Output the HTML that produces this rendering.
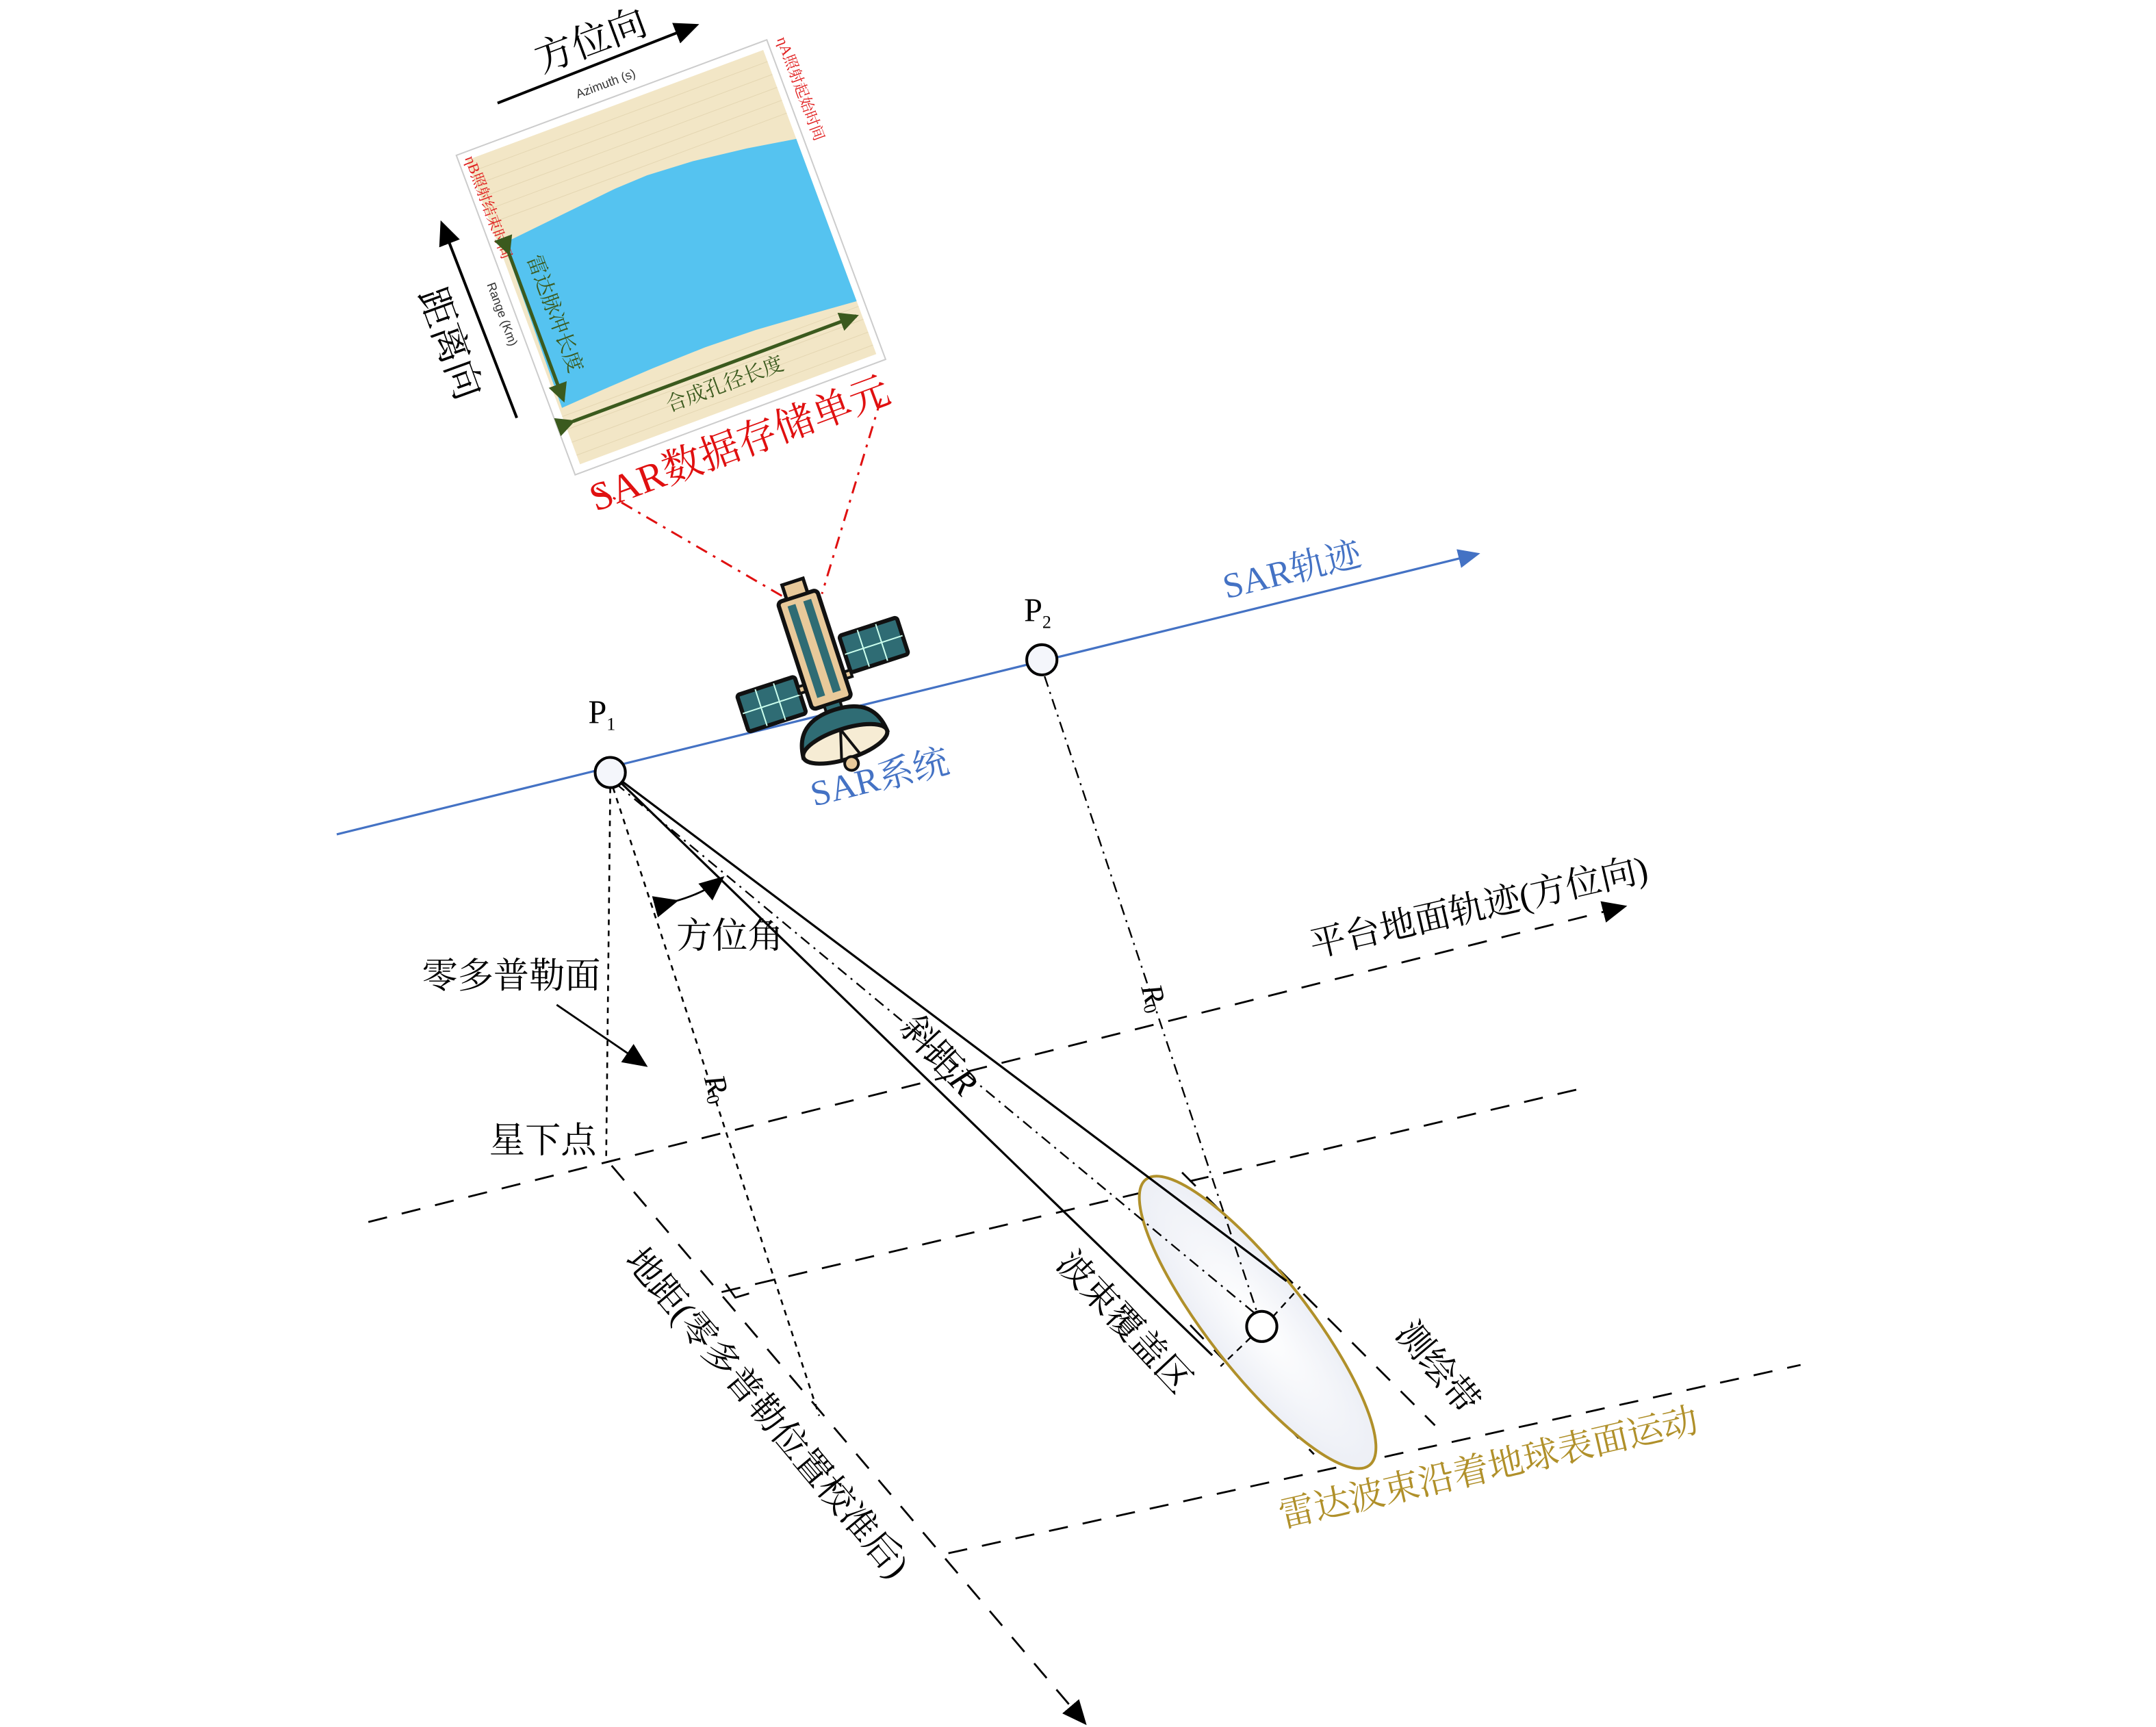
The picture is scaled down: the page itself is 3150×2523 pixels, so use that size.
<!DOCTYPE html>
<html><head><meta charset="utf-8">
<style>
html,body{margin:0;padding:0;background:#fff;}
svg{display:block;}
text{font-family:"Liberation Serif","Noto Serif CJK SC",serif;}
</style></head>
<body>
<svg width="3150" height="2523" viewBox="0 0 1568.6 1256.4" preserveAspectRatio="none" xmlns="http://www.w3.org/2000/svg">
<defs>
<radialGradient id="eg" cx="0.5" cy="0.5" r="0.6">
<stop offset="0" stop-color="#ffffff"/><stop offset="1" stop-color="#e9ecf4"/>
</radialGradient>
<marker id="abig" markerWidth="18" markerHeight="16" refX="14" refY="8" orient="auto" markerUnits="userSpaceOnUse"><path d="M0,0 L18,8 L0,16 Z" fill="#000"/></marker>
<marker id="ablue" markerWidth="16" markerHeight="14" refX="14" refY="7" orient="auto" markerUnits="userSpaceOnUse"><path d="M0,0 L16,7 L0,14 Z" fill="#4472c4"/></marker>
<marker id="ag" markerWidth="14" markerHeight="14" refX="12" refY="7" orient="auto" markerUnits="userSpaceOnUse"><path d="M0,0 L14,7 L0,14 Z" fill="#3b5a1e"/></marker>
</defs>

<g stroke="#000" stroke-width="1.4" fill="none" stroke-dasharray="14 11">
<line x1="268" y1="889" x2="1180" y2="660" marker-end="url(#abig)"/>
<line x1="525" y1="940" x2="1150" y2="792"/>
<line x1="690" y1="1130" x2="1310" y2="993"/>
<line x1="445" y1="848" x2="788" y2="1252" marker-end="url(#abig)"/>
<line x1="860" y1="853" x2="1044" y2="1037"/>
<line x1="866" y1="964" x2="956" y2="1058"/>
</g>
<path d="M528,934 L535,944 L545,941" stroke="#000" stroke-width="1.4" fill="none"/>

<ellipse cx="915" cy="962" rx="132" ry="36" transform="rotate(52 915 962)" fill="url(#eg)" stroke="#b0902a" stroke-width="2"/>

<line x1="245" y1="607" x2="1075" y2="403" stroke="#4472c4" stroke-width="1.6" marker-end="url(#ablue)"/>

<g stroke="#000" fill="none">
<line x1="444" y1="562" x2="936" y2="932" stroke-width="1.6"/>
<line x1="444" y1="562" x2="882" y2="986" stroke-width="1.6"/>
<line x1="444" y1="573" x2="441" y2="845" stroke-width="1.3" stroke-dasharray="4 4"/>
<line x1="446" y1="573" x2="596" y2="1030" stroke-width="1.3" stroke-dasharray="4 4"/>
<line x1="448" y1="570" x2="916" y2="958" stroke-width="1.2" stroke-dasharray="8 4 1.5 4"/>
<line x1="760" y1="492" x2="914" y2="953" stroke-width="1.2" stroke-dasharray="8 4 1.5 4"/>
<line x1="926" y1="958" x2="946" y2="936" stroke-width="1.2" stroke-dasharray="5 4"/>
<line x1="910" y1="973" x2="888" y2="994" stroke-width="1.2" stroke-dasharray="5 4"/>
<line x1="405" y1="731" x2="468" y2="774" stroke-width="1.4" marker-end="url(#abig)"/>
<path d="M490,656 Q512,650 524,640" stroke-width="1.4" marker-end="url(#abig)" marker-start="url(#abig)"/>
</g>
<circle cx="918" cy="965" r="11" fill="#fff" stroke="#000" stroke-width="2"/>
<circle cx="444" cy="562" r="11" fill="#f4f6fb" stroke="#000" stroke-width="2"/>
<circle cx="758" cy="480" r="11" fill="#f4f6fb" stroke="#000" stroke-width="2"/>

<text x="428" y="526" font-size="24">P<tspan font-size="13" dy="5">1</tspan></text>
<text x="745" y="452" font-size="24">P<tspan font-size="13" dy="5">2</tspan></text>

<g stroke="#e01010" stroke-width="1.5" stroke-dasharray="9 5 2 5" fill="none">
<line x1="434" y1="355" x2="580" y2="440"/>
<line x1="641" y1="290" x2="598" y2="432"/>
</g>

<g transform="translate(597,486) rotate(-18)">
<rect x="-64" y="0" width="44" height="28" fill="#2f6c74" stroke="#111" stroke-width="3" rx="2"/>
<path d="M-50,0 V28 M-36,0 V28 M-64,14 H-20" stroke="#cfe" stroke-width="1"/>
<rect x="20" y="-18" width="44" height="28" fill="#2f6c74" stroke="#111" stroke-width="3" rx="2"/>
<path d="M34,-18 V10 M48,-18 V10 M20,-4 H64" stroke="#cfe" stroke-width="1"/>
<rect x="-20" y="8" width="40" height="5" fill="#e8c99a" stroke="#111" stroke-width="2"/>
<rect x="-15" y="-55" width="30" height="82" fill="#e8c99a" stroke="#111" stroke-width="3" rx="3"/>
<rect x="-9" y="-50" width="6" height="70" fill="#2f6c74"/>
<rect x="3" y="-50" width="6" height="70" fill="#2f6c74"/>
<rect x="-8" y="-66" width="16" height="11" fill="#e8c99a" stroke="#111" stroke-width="2.5"/>
<rect x="-6" y="27" width="12" height="8" fill="#2f6c74" stroke="#111" stroke-width="2"/>
<path d="M-32,58 Q-30,32 0,32 Q30,32 32,58 Z" fill="#2f6c74" stroke="#111" stroke-width="3"/>
<ellipse cx="0" cy="58" rx="32" ry="11" fill="#f6ecd4" stroke="#111" stroke-width="3"/>
<path d="M0,47 L-6,68 M0,47 L8,68" stroke="#111" stroke-width="2"/>
<circle cx="0" cy="73" r="5" fill="#e8c99a" stroke="#111" stroke-width="2"/>
</g>

<g transform="translate(332,113) rotate(-20.4)">
<rect x="0" y="0" width="241" height="248" fill="#fff" stroke="#ccc" stroke-width="1"/>
<rect x="6" y="6" width="230" height="236" fill="#f2e6c6"/>
<g stroke="#e4d6b2" stroke-width="0.5">
<line x1="6" y1="15" x2="236" y2="15"/><line x1="6" y1="25" x2="236" y2="25"/><line x1="6" y1="35" x2="236" y2="35"/><line x1="6" y1="45" x2="236" y2="45"/><line x1="6" y1="55" x2="236" y2="55"/>
<line x1="6" y1="205" x2="236" y2="205"/><line x1="6" y1="215" x2="236" y2="215"/><line x1="6" y1="225" x2="236" y2="225"/><line x1="6" y1="235" x2="236" y2="235"/>
</g>
<path d="M10,72 L40,69 L70,66 L100,63 L125,62 L160,64 L200,69 L236,75 L236,201 L200,198 L160,195 L121,194 L80,195 L40,197 L8,199 Z" fill="#55c3f0"/>
<text x="120" y="-8" font-size="9" text-anchor="middle" fill="#333" style="font-family:'Liberation Sans',sans-serif">Azimuth (s)</text>
<text transform="translate(-12,120) rotate(90)" font-size="9" text-anchor="middle" fill="#333" style="font-family:'Liberation Sans',sans-serif">Range (Km)</text>
<text transform="translate(248,2) rotate(90)" font-size="11" fill="#e02020">ηA照射起始时间</text>
<text transform="translate(5,4) rotate(90)" font-size="11" fill="#e02020">ηB照射结束时间</text>
<line x1="11" y1="80" x2="11" y2="194" stroke="#3b5a1e" stroke-width="2.5" marker-end="url(#ag)" marker-start="url(#ag)"/>
<line x1="12" y1="211" x2="232" y2="211" stroke="#3b5a1e" stroke-width="2.5" marker-end="url(#ag)" marker-start="url(#ag)"/>
<text transform="translate(22,88) rotate(90)" font-size="15" fill="#3b5a1e">雷达脉冲长度</text>
<text x="125" y="229" font-size="15" fill="#3b5a1e" text-anchor="middle">合成孔径长度</text>
</g>

<line x1="362" y1="75" x2="505" y2="19" stroke="#000" stroke-width="2" marker-end="url(#abig)"/>
<line x1="376" y1="304" x2="322" y2="164" stroke="#000" stroke-width="2" marker-end="url(#abig)"/>
<text transform="translate(430,30) rotate(-20.4)" font-size="28" text-anchor="middle" dominant-baseline="central">方位向</text>
<text transform="translate(327,250) rotate(70)" font-size="28" text-anchor="middle" dominant-baseline="central">距离向</text>
<text transform="translate(538,323) rotate(-20.4)" font-size="29" text-anchor="middle" dominant-baseline="central" fill="#e01010">SAR数据存储单元</text>

<text transform="translate(940,415) rotate(-14)" font-size="26" text-anchor="middle" dominant-baseline="central" fill="#4472c4">SAR轨迹</text>
<text transform="translate(640,566) rotate(-14)" font-size="26" text-anchor="middle" dominant-baseline="central" fill="#4472c4">SAR系统</text>
<text transform="translate(1076,660) rotate(-13)" font-size="26" text-anchor="middle" dominant-baseline="central">平台地面轨迹(方位向)</text>
<text transform="translate(1083,1068) rotate(-13)" font-size="26" text-anchor="middle" dominant-baseline="central" fill="#b0902a">雷达波束沿着地球表面运动</text>
<text x="531" y="681" font-size="26" text-anchor="middle" dominant-baseline="central">方位角</text>
<text x="372" y="710" font-size="26" text-anchor="middle" dominant-baseline="central">零多普勒面</text>
<text x="395" y="830" font-size="26" text-anchor="middle" dominant-baseline="central">星下点</text>
<text transform="translate(683,768) rotate(47)" font-size="26" text-anchor="middle" dominant-baseline="central">斜距<tspan font-style="italic">R</tspan></text>
<text transform="translate(522,792) rotate(75)" font-size="22" text-anchor="middle" dominant-baseline="central"><tspan font-style="italic">R</tspan><tspan font-size="13" dy="5">0</tspan></text>
<text transform="translate(840,726) rotate(75)" font-size="22" text-anchor="middle" dominant-baseline="central"><tspan font-style="italic">R</tspan><tspan font-size="13" dy="5">0</tspan></text>
<text transform="translate(558,1028) rotate(50)" font-size="26" text-anchor="middle" dominant-baseline="central">地距(零多普勒位置校准后)</text>
<text transform="translate(818,962) rotate(47)" font-size="26" text-anchor="middle" dominant-baseline="central">波束覆盖区</text>
<text transform="translate(1046,995) rotate(50)" font-size="26" text-anchor="middle" dominant-baseline="central">测绘带</text>
</svg>
</body></html>
